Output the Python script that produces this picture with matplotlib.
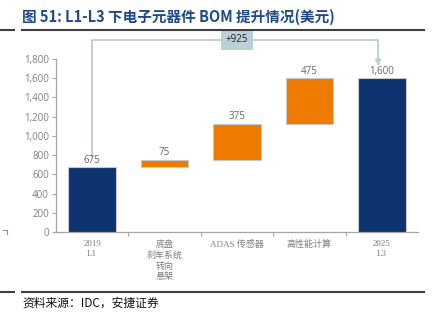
import matplotlib.pyplot as plt
import numpy as np

# ========== data ==========
categories = ['2019\nL1', '底盘\n刹车系统\n转向\n悬架', 'ADAS 传感器', '高性能计算', '2025\nL3']
values = [675, 75, 375, 475, 1600]
is_total = [True, False, False, False, True]
y_ticks = [0, 200, 400, 600, 800, 1000, 1200, 1400, 1600, 1800]
delta_label = '+925'

blue = '#0E3470'
orange = '#EE7A00'
grey = '#7F7F7F'
bracket = '#B9CDD4'

plt.rcParams['font.family'] = ['Noto Sans CJK SC', 'DejaVu Sans']

fig = plt.figure(figsize=(4.32, 3.21), dpi=100)
ax = fig.add_axes([56 / 432, 89 / 321, 362 / 432, 173 / 321])

# waterfall bottoms
bottoms = []
running = 0
for v, tot in zip(values, is_total):
    if tot:
        bottoms.append(0)
        running = v
    else:
        bottoms.append(running)
        running += v

x = np.arange(len(values))
colors = [blue if t else orange for t in is_total]
ax.bar(x, values, bottom=bottoms, width=0.66, color=colors,
       edgecolor='#C8C8C8', linewidth=0.8, zorder=3)

for xi, v, b in zip(x, values, bottoms):
    ax.text(xi, b + v + 15, f'{v:,}', ha='center', va='bottom',
            fontsize=7, color='#666666', family=['Open Sans', 'DejaVu Sans'])

# bracket with delta
top = 2000
ax.plot([0, 0, 3.95, 3.95], [780, top, top, 1760], color=bracket,
        lw=1.3, clip_on=False, zorder=2)
ax.annotate('', xy=(3.95, 1700), xytext=(3.95, 1780),
            arrowprops=dict(arrowstyle='-|>', color=bracket, lw=1.3,
                            mutation_scale=8), annotation_clip=False)
ax.text(2.0, top, delta_label, ha='center', va='center', fontsize=7,
        color='#222222', family=['Open Sans', 'DejaVu Sans'],
        bbox=dict(boxstyle='square,pad=0.45', fc='#BDD0D7', ec='none'),
        clip_on=False, zorder=4)

ax.set_xlim(-0.5, 4.5)
ax.set_ylim(0, 1800)
ax.set_yticks(y_ticks)
ax.set_yticklabels([f'{t:,}' for t in y_ticks], fontsize=7, color=grey,
                   family=['Open Sans', 'DejaVu Sans'])
ax.set_xticks(x)
ax.set_xticklabels(categories, fontsize=6.5, color=grey, linespacing=1.25,
                   family=['Liberation Serif', 'Noto Sans CJK SC'])
ax.tick_params(axis='x', length=0, pad=6)
ax.set_xticks(np.arange(0.5, 4.5, 1), minor=True)
ax.tick_params(axis='x', which='minor', length=3, color='#A6A6A6', width=0.8)
ax.tick_params(axis='y', length=3, color='#A6A6A6', width=0.8, pad=2)

for s in ['top', 'right']:
    ax.spines[s].set_visible(False)
for s in ['left', 'bottom']:
    ax.spines[s].set_color('#A6A6A6')
    ax.spines[s].set_linewidth(0.9)

# title, rules and source
fig.text(22 / 432, 1 - 17 / 321, '图 51: L1-L3 下电子元器件 BOM 提升情况(美元)',
         fontsize=10.5, fontweight='bold', color='#1F4A8A', va='center')
for yy in [30, 292]:
    fig.add_artist(plt.Line2D([0, 14 / 432], [1 - yy / 321] * 2,
                              color='#404040', lw=1.5))
    fig.add_artist(plt.Line2D([22 / 432, 424 / 432], [1 - yy / 321] * 2,
                              color='#404040', lw=1.5))
# small stray corner mark at the lower left
fig.add_artist(plt.Line2D([3 / 432, 7 / 432, 7 / 432],
                          [1 - 230 / 321, 1 - 230 / 321, 1 - 234 / 321],
                          color='#909090', lw=0.8))
fig.text(22 / 432, 1 - 303 / 321, '资料来源：IDC，安捷证券', fontsize=8.5,
         style='italic', color='#111111', va='center')

fig.savefig('out.png', dpi=100)
